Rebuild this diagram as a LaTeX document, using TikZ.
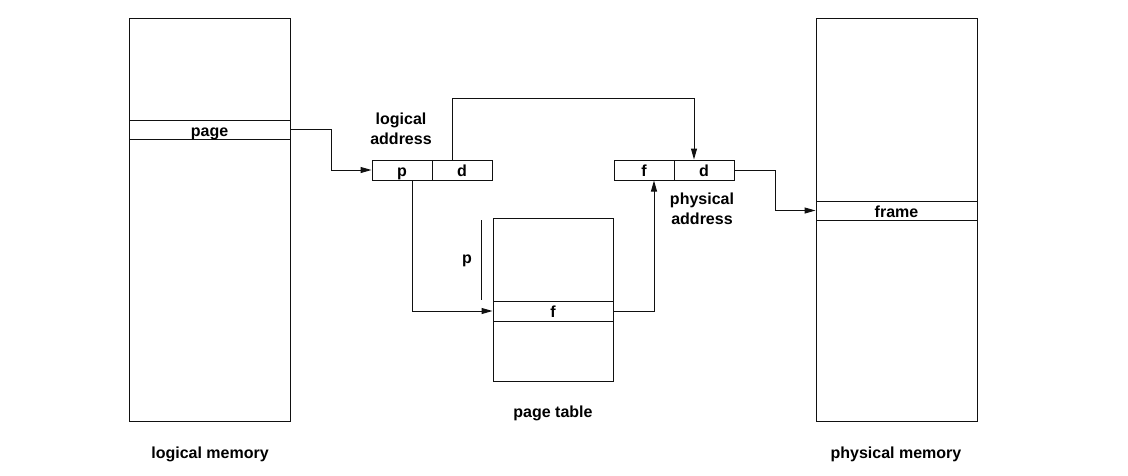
\documentclass[tikz,border=0pt]{standalone}
\usepackage{fontspec}
\setmainfont{Liberation Sans}
\usepackage{tikz}
\usetikzlibrary{arrows.meta,positioning}
\definecolor{ink}{HTML}{111111}

\begin{document}
\begin{tikzpicture}[
  x=1pt, y=-1pt,
  font=\fontsize{16}{20}\selectfont\bfseries,
  mem/.style={draw=ink,line width=1pt,minimum width=161pt,minimum height=403pt,inner sep=0pt},
  row/.style={draw=ink,line width=1pt,fill=white,minimum height=19pt,inner sep=0pt,
              text height=14.5pt,text depth=1.5pt},
  cell/.style={draw=ink,line width=1pt,minimum width=60pt,minimum height=20pt,inner sep=0pt,
               text height=14.5pt,text depth=1.5pt},
  conn/.style={-{Triangle[length=11pt,width=6pt]},draw=ink,line width=1pt},
  lbl/.style={align=center,inner sep=0pt},
]
\useasboundingbox (0,0) rectangle (1128,475);

% --- memories -------------------------------------------------------------
\node[mem] (lmem) at (209.5,219.5) {};
\node[row,minimum width=161pt] (page) at (209.5,129.5) {page};
\node[mem] (pmem) at (896.5,219.5) {};
\node[row,minimum width=161pt] (frame) at (896.5,210.5) {frame};

% --- addresses ------------------------------------------------------------
\node[cell] (lap) at (402,170) {p};
\node[cell] (lad) at (462,170) {d};
\node[cell] (paf) at (644,170) {f};
\node[cell] (pad) at (704,170) {d};

% --- page table -----------------------------------------------------------
\node[draw=ink,line width=1pt,minimum width=120pt,minimum height=163pt,inner sep=0pt] (ptab) at (553,299.5) {};
\node[row,minimum width=120pt,minimum height=20pt] (ptf) at (553,311) {f};
\coordinate (ptop) at (481,220);
\coordinate (pbot) at (481,300);
\draw[draw=ink,line width=1pt] (ptop) -- (pbot);

% --- labels ---------------------------------------------------------------
\node[lbl] (lalbl) at (401,129) {logical\\address};
\node[lbl] (palbl) at (702,209) {physical\\address};
\node[lbl] (plbl)  at (467,261) {p};
\node[lbl] (ptlbl) at (553,413) {page table};
\node[lbl] (lmlbl) at (210,454) {logical memory};
\node[lbl] (pmlbl) at (896,454) {physical memory};

% --- connectors -----------------------------------------------------------
\draw[conn] (page.east) -- ([xshift=41pt]page.east) |- (lap.west);
\draw[conn] ([xshift=-10pt]lad.north) -- ++(0,-61) -| ([xshift=-10pt]pad.north);
\draw[conn] ([xshift=10pt]lap.south) |- (ptf.west);
\draw[conn] (ptf.east) -| ([xshift=10pt]paf.south);
\draw[conn] (pad.east) -- ([xshift=41pt]pad.east) |- (frame.west);
\end{tikzpicture}
\end{document}
